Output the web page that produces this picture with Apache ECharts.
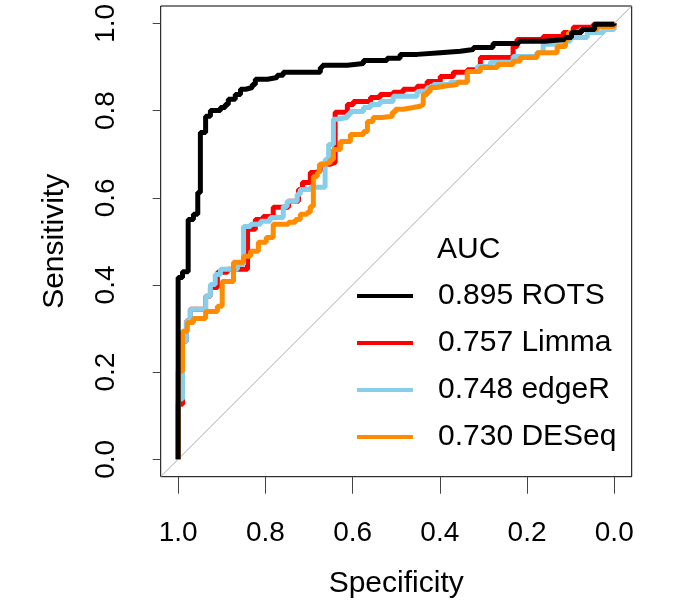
<!DOCTYPE html>
<html>
<head>
<meta charset="utf-8">
<script src="https://cdn.jsdelivr.net/npm/echarts@6/dist/echarts.min.js"></script>
<style>
html,body{margin:0;padding:0;background:#fff;}
#chart{width:676px;height:606px;}
</style>
</head>
<body>
<div id="chart"></div>
<script>
// ---- data (specificity, sensitivity); staircase corners ----
var tickValues = [0, 0.2, 0.4, 0.6, 0.8, 1.0];
var legendNames = ['0.895 ROTS', '0.757 Limma', '0.748 edgeR', '0.730 DESeq'];
var legendTitle = 'AUC';

var specROTS = [1,0.99,0.977,0.965,0.955,0.949,0.937,0.926,0.903,0.892,0.885,0.869,0.857,0.845,0.830,0.823,0.795,0.773,0.759,0.674,0.669,0.612,0.575,0.521,0.491,0.452,0.399,0.353,0.323,0.278,0.219,0.160,0.114,0.098,0.075,0.045,0.0,0.0];
var sensROTS = [0,0.417,0.43,0.55,0.562,0.612,0.75,0.787,0.80,0.807,0.814,0.826,0.837,0.849,0.853,0.860,0.872,0.876,0.881,0.888,0.899,0.904,0.908,0.915,0.920,0.929,0.933,0.936,0.940,0.945,0.954,0.959,0.963,0.968,0.979,0.986,0.998,1.0];

var specLimma = [1,0.990,0.981,0.972,0.937,0.926,0.910,0.887,0.841,0.823,0.805,0.782,0.770,0.747,0.724,0.715,0.697,0.685,0.674,0.651,0.640,0.612,0.598,0.559,0.537,0.507,0.484,0.452,0.429,0.399,0.369,0.337,0.307,0.232,0.223,0.163,0.117,0.094,0.048,0.0,0.0];
var sensLimma = [0,0.126,0.271,0.317,0.344,0.374,0.394,0.429,0.436,0.528,0.550,0.557,0.578,0.578,0.592,0.619,0.635,0.658,0.661,0.677,0.681,0.796,0.814,0.821,0.830,0.837,0.842,0.849,0.856,0.867,0.878,0.888,0.894,0.922,0.947,0.963,0.970,0.979,0.991,0.998,1.0];

var specEdgeR = [1,0.990,0.981,0.972,0.937,0.926,0.915,0.903,0.864,0.850,0.834,0.811,0.789,0.759,0.750,0.727,0.720,0.697,0.663,0.655,0.644,0.635,0.612,0.605,0.575,0.559,0.537,0.507,0.452,0.429,0.415,0.376,0.337,0.314,0.284,0.232,0.177,0.163,0.117,0.101,0.062,0.026,0.0,0.0];
var sensEdgeR = [0,0.138,0.271,0.317,0.344,0.374,0.401,0.424,0.436,0.447,0.534,0.539,0.546,0.555,0.580,0.592,0.608,0.619,0.624,0.688,0.722,0.780,0.784,0.791,0.798,0.807,0.814,0.821,0.833,0.844,0.853,0.860,0.865,0.890,0.901,0.911,0.924,0.933,0.952,0.959,0.968,0.979,0.986,1.0];

var specDESeq = [1,0.990,0.979,0.965,0.937,0.910,0.899,0.873,0.850,0.834,0.816,0.798,0.782,0.747,0.731,0.720,0.704,0.697,0.690,0.681,0.676,0.663,0.651,0.644,0.628,0.605,0.575,0.566,0.553,0.532,0.509,0.502,0.484,0.461,0.445,0.438,0.429,0.422,0.406,0.392,0.360,0.337,0.307,0.268,0.232,0.216,0.177,0.131,0.112,0.105,0.078,0.039,0.0,0.0];
var sensDESeq = [0,0.202,0.294,0.314,0.323,0.339,0.351,0.408,0.452,0.466,0.477,0.498,0.509,0.539,0.544,0.550,0.562,0.567,0.580,0.649,0.658,0.677,0.681,0.688,0.711,0.729,0.745,0.752,0.775,0.784,0.787,0.796,0.803,0.807,0.810,0.814,0.837,0.844,0.853,0.856,0.860,0.865,0.890,0.899,0.906,0.913,0.922,0.933,0.947,0.963,0.979,0.986,0.993,1.0];

var diagSpec = [1.04, -0.04];
var diagSens = [-0.04, 1.04];

function pairs(xs, ys){ return xs.map(function(x,i){ return [x, ys[i]]; }); }

var FONT = '"Liberation Sans", Arial, Helvetica, sans-serif';
var chart = echarts.init(document.getElementById('chart'), null, {renderer:'canvas'});

var lw = 5;
var option = {
  backgroundColor: '#fff',
  animation: false,
  title: {
    text: legendTitle,
    left: 437, top: 235,
    padding: 0,
    textStyle: {fontFamily: FONT, fontSize: 30, fontWeight: 'normal', color: '#000'}
  },
  legend: {
    data: legendNames,
    orient: 'vertical',
    left: 357, top: 281,
    padding: 0,
    icon: 'rect',
    itemWidth: 56, itemHeight: 4,
    itemGap: 17,
    selectedMode: false,
    textStyle: {fontFamily: FONT, fontSize: 30, color: '#000', lineHeight: 28, padding: [0,0,0,20]}
  },
  grid: {
    left: 160.7, right: 44.3, top: 6, bottom: 129.3,
    show: true, borderColor: '#000', borderWidth: 1, backgroundColor: 'transparent',
    containLabel: false
  },
  xAxis: {
    type: 'value', inverse: true, min: -0.04, max: 1.04,
    position: 'bottom',
    name: 'Specificity', nameLocation: 'middle', nameGap: 92,
    nameTextStyle: {fontFamily: FONT, fontSize: 30, color: '#000'},
    axisLine: {show: false, onZero: false},
    splitLine: {show: false},
    axisTick: {show: true, length: 17, customValues: tickValues, lineStyle: {color: '#444', width: 1}},
    axisLabel: {customValues: tickValues, margin: 43, fontFamily: FONT, fontSize: 28, color: '#000',
      formatter: function(v){ return v.toFixed(1); }}
  },
  yAxis: {
    type: 'value', min: -0.04, max: 1.04,
    position: 'left',
    name: 'Sensitivity', nameLocation: 'middle', nameGap: 91,
    nameTextStyle: {fontFamily: FONT, fontSize: 30, color: '#000'},
    axisLine: {show: false, onZero: false},
    splitLine: {show: false},
    axisTick: {show: true, length: 8, customValues: tickValues, lineStyle: {color: '#444', width: 1}},
    axisLabel: {customValues: tickValues, rotate: 90, margin: 40, fontFamily: FONT, fontSize: 28, color: '#000',
      formatter: function(v){ return v.toFixed(1); }}
  },
  series: [
    {type:'line', name:'diag', data: pairs(diagSpec, diagSens), symbol:'none', silent:true,
     lineStyle:{color:'#aaaaaa', width:1}, z:1},
    {type:'line', name: legendNames[1], data: pairs(specLimma, sensLimma), step:'start', symbol:'none',
     color:'#ff0000', lineStyle:{color:'#ff0000', width:lw}, z:2},
    {type:'line', name: legendNames[2], data: pairs(specEdgeR, sensEdgeR), step:'start', symbol:'none',
     color:'#87ceeb', lineStyle:{color:'#87ceeb', width:lw}, z:3},
    {type:'line', name: legendNames[3], data: pairs(specDESeq, sensDESeq), step:'start', symbol:'none',
     color:'#ff8c00', lineStyle:{color:'#ff8c00', width:lw}, z:4},
    {type:'line', name: legendNames[0], data: pairs(specROTS, sensROTS), step:'start', symbol:'none',
     color:'#000000', lineStyle:{color:'#000000', width:lw}, z:5}
  ]
};
chart.setOption(option);
</script>
</body>
</html>
